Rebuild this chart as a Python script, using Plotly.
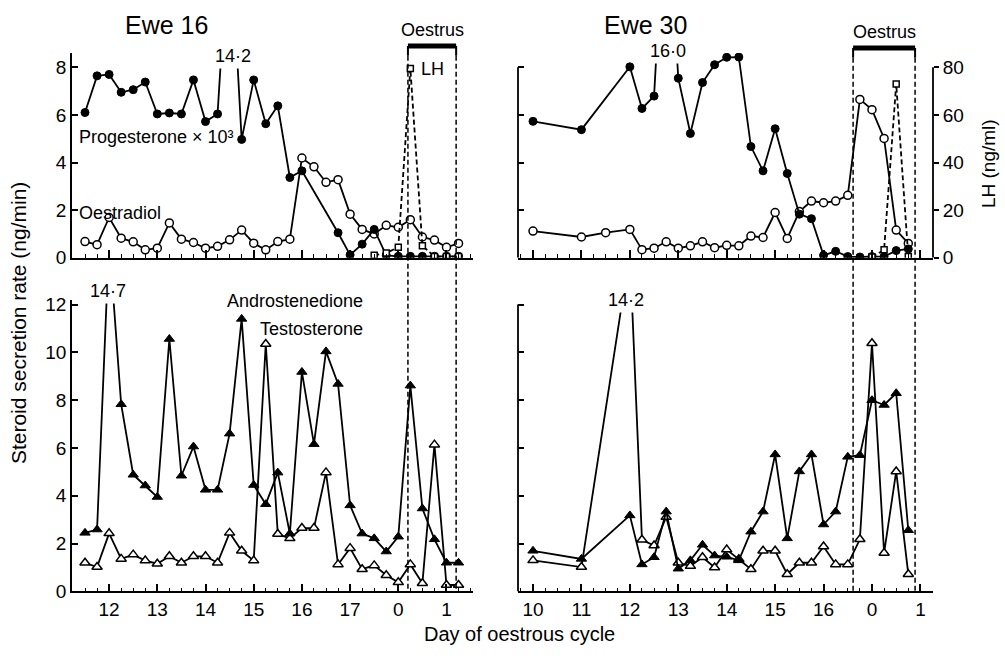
import plotly.graph_objects as go

# ---------------- data ----------------
# Day-axis positions. Ewe 16: 18 = day 0, 19 = day 1.  Ewe 30: 17 = day 0, 18 = day 1.
days16 = [11.5, 11.75, 12.0, 12.25, 12.5, 12.75, 13.0, 13.25, 13.5, 13.75, 14.0, 14.25,
          14.5, 14.75, 15.0, 15.25, 15.5, 15.75, 16.0, 16.25, 16.5, 16.75, 17.0, 17.25,
          17.5, 17.75, 18.0, 18.25, 18.5, 18.75, 19.0, 19.25]
prog16 = [6.1, 7.64, 7.70, 6.95, 7.06, 7.38, 6.04, 6.08, 6.04, 7.47, 5.72, 6.04,
          14.2, 4.97, 7.47, 5.63, 6.38, 3.37, 3.65, None, None, 1.05, 0.12, 0.57,
          1.19, 0.1, 0.06, 0.06, 0.06, 0.06, 0.06, 0.06]
oest16 = [0.68, 0.55, 1.69, 0.82, 0.67, 0.33, 0.40, 1.46, 0.78, 0.64, 0.40, 0.48,
          0.75, 1.16, 0.61, 0.33, 0.68, 0.78, 4.19, 3.82, 3.17, 3.28, 1.83, 1.19,
          1.0, 1.36, 1.28, 1.6, 0.87, 0.74, 0.44, 0.6]
lh16 = [None] * 24 + [1.0, 2.0, 4.4, 79.5, 5.0, 0.5, 0.5, 0.5]
andro16 = [2.45, 2.59, 14.7, 7.83, 4.88, 4.43, 3.95, 10.56, 4.84, 6.06, 4.25, 4.25,
           6.6, 11.4, 4.45, 3.65, 4.97, 2.42, 9.18, 6.16, 10.04, 8.68, 3.6, 2.42,
           2.22, 1.67, 2.29, 8.61, 3.47, 2.18, 1.2, 1.2]
testo16 = [1.2, 1.02, 2.43, 1.36, 1.54, 1.29, 1.16, 1.47, 1.2, 1.47, 1.47, 1.2,
           2.45, 1.7, 1.29, 10.35, 2.4, 2.22, 2.65, 2.65, 4.98, 1.13, 1.81, 0.93,
           1.09, 0.68, 0.38, 1.13, 0.34, 6.14, 0.27, 0.27]

days30 = [10.0, 11.0, 11.5, 12.0, 12.25, 12.5, 12.75, 13.0, 13.25, 13.5, 13.75, 14.0,
          14.25, 14.5, 14.75, 15.0, 15.25, 15.5, 15.75, 16.0, 16.25, 16.5, 16.75, 17.0,
          17.25, 17.5, 17.75]
prog30 = [5.73, 5.38, None, 8.02, 6.27, 6.79, 16.0, 7.54, 5.22, 7.36, 8.11, 8.42,
          8.43, 4.67, 3.65, 5.42, 3.54, 1.83, 1.64, 0.1, 0.27, 0.05, 0.03, 0.05,
          0.05, 0.3, 0.37]
oest30 = [1.12, 0.87, 1.05, 1.19, 0.34, 0.4, 0.67, 0.4, 0.5, 0.67, 0.42, 0.52,
          0.5, 0.91, 0.85, 1.9, 0.81, 1.94, 2.38, 2.31, 2.38, 2.62, 6.65, 6.22,
          5.01, 1.16, 0.6]
lh30 = [None] * 23 + [0.3, 3.3, 73.0, 0.5]
andro30 = [1.7, 1.36, None, 3.18, 1.13, 1.43, 3.34, 0.95, 1.3, 1.95, 1.5, 1.45,
           1.3, 2.5, 3.34, 5.73, 2.22, 5.02, 5.73, 2.8, 3.34, 5.63, 5.7, 8.0,
           7.8, 8.29, 2.56]
testo30 = [1.3, 1.02, None, 14.2, 2.16, 1.92, 3.11, 1.2, 1.06, 1.43, 1.0, 1.75,
           1.35, 0.93, 1.7, 1.7, 0.72, 1.2, 1.2, 1.88, 1.13, 1.13, 2.18, 10.38,
           1.61, 5.02, 0.72]

oestrus16 = [18.2, 19.2]
oestrus30 = [16.61, 17.89]

ticks16 = [12, 13, 14, 15, 16, 17, 18, 19]
labels16 = ["12", "13", "14", "15", "16", "17", "0", "1"]
ticks30 = [10, 11, 12, 13, 14, 15, 16, 17, 18]
labels30 = ["10", "11", "12", "13", "14", "15", "16", "0", "1"]

# ---------------- styling ----------------
W, H = 1005, 660
FONT = "Liberation Sans, Arial, Helvetica, sans-serif"
BLACK = "black"
LW = 1.8


def px(x):
    return x / W


def py(y):
    return 1 - y / H


def filled(symbol, size):
    return dict(symbol=symbol, size=size, color=BLACK, line=dict(color=BLACK, width=1))


def hollow(symbol, size):
    return dict(symbol=symbol, size=size, color="white", line=dict(color=BLACK, width=1.5))


fig = go.Figure()


def add(x, y, marker, xa, ya, dash="solid"):
    fig.add_trace(go.Scatter(x=x, y=y, mode="lines+markers", connectgaps=True,
                             line=dict(color=BLACK, width=LW, dash=dash),
                             marker=marker, xaxis=xa, yaxis=ya, hoverinfo="skip"))


# Ewe 16 top
add(days16, lh16, hollow("square", 6), "x", "y6", dash="5px,3px")
add(days16, oest16, hollow("circle", 8), "x", "y")
add(days16, prog16, filled("circle", 8), "x", "y")
# Ewe 16 bottom
add(days16, testo16, hollow("triangle-up", 9), "x2", "y2")
add(days16, andro16, filled("triangle-up", 9), "x2", "y2")
# Ewe 30 top
add(days30, lh30, hollow("square", 6), "x3", "y4", dash="5px,3px")
add(days30, oest30, hollow("circle", 8), "x3", "y3")
add(days30, prog30, filled("circle", 8), "x3", "y3")
# Ewe 30 bottom
add(days30, testo30, hollow("triangle-up", 9), "x4", "y5")
add(days30, andro30, filled("triangle-up", 9), "x4", "y5")

tickfont = dict(family=FONT, size=19, color=BLACK)
LEFT = [px(72), px(473)]
RIGHT = [px(518), px(933)]
TOP = [py(259), py(49.2)]
BOT = [py(601), py(302.1)]
RANGE16 = [11.23, 19.55]
RANGE30 = [9.69, 18.26]


def xax(domain, rng, tv, tt, anchor, labels):
    return dict(domain=domain, range=rng, anchor=anchor, tickmode="array", tickvals=tv,
                ticktext=tt, showticklabels=labels, showline=True, linecolor=BLACK,
                linewidth=LW, ticks="inside", ticklen=8, tickwidth=1.5, tickcolor=BLACK,
                showgrid=False, zeroline=False, tickfont=tickfont,
                minor=dict(ticks="inside", ticklen=4, tickwidth=1.3, tickcolor=BLACK,
                           dtick=0.25, tick0=0, showgrid=False))


def yax(domain, rng, tv, anchor, labels, line):
    return dict(domain=domain, range=rng, anchor=anchor, tickmode="array", tickvals=tv,
                showticklabels=labels, showline=line, linecolor=BLACK, linewidth=LW,
                ticks="inside", ticklen=6, tickwidth=1.5, tickcolor=BLACK,
                showgrid=False, zeroline=False, tickfont=tickfont)


fig.update_layout(
    width=W, height=H, margin=dict(l=0, r=0, t=0, b=0),
    paper_bgcolor="white", plot_bgcolor="white", showlegend=False,
    font=dict(family=FONT, color=BLACK),
    xaxis=xax(LEFT, RANGE16, ticks16, labels16, "y", False),
    xaxis2=xax(LEFT, RANGE16, ticks16, labels16, "y2", True),
    xaxis3=xax(RIGHT, RANGE30, ticks30, labels30, "y3", False),
    xaxis4=xax(RIGHT, RANGE30, ticks30, labels30, "y5", True),
    yaxis=yax(TOP, [0, 8.6], [0, 2, 4, 6, 8], "x", True, True),
    yaxis2=yax(BOT, [0, 12.2], [0, 2, 4, 6, 8, 10, 12], "x2", True, True),
    yaxis3=yax(TOP, [0, 8.6], [0, 2, 4, 6, 8], "x3", False, False),
    yaxis4=dict(overlaying="y3", side="right", anchor="x3", range=[0, 86],
                tickmode="array", tickvals=[0, 20, 40, 60, 80], ticks="outside",
                ticklen=5, tickwidth=1.5, tickcolor=BLACK, showline=False,
                showgrid=False, zeroline=False, tickfont=tickfont),
    yaxis5=yax(BOT, [0, 12.2], [0, 2, 4, 6, 8, 10, 12], "x4", False, False),
    yaxis6=dict(overlaying="y", anchor="x", range=[0, 86], visible=False),
)

shapes = []
# axis lines drawn only over the labelled span (right-hand panels)
shapes.append(dict(type="line", xref="paper", yref="y3", x0=RIGHT[0], x1=RIGHT[0], y0=0, y1=8,
                   line=dict(color=BLACK, width=LW)))
shapes.append(dict(type="line", xref="paper", yref="y4", x0=RIGHT[1], x1=RIGHT[1], y0=0, y1=80,
                   line=dict(color=BLACK, width=LW)))
shapes.append(dict(type="line", xref="paper", yref="y5", x0=RIGHT[0], x1=RIGHT[0], y0=0, y1=12,
                   line=dict(color=BLACK, width=LW)))
# oestrus bars and dashed boundaries
for xr, (a, b), ybar in (("x", oestrus16, 42), ("x3", oestrus30, 44)):
    shapes.append(dict(type="line", xref=xr, yref="paper", x0=a, x1=b, y0=py(ybar), y1=py(ybar),
                       line=dict(color=BLACK, width=5)))
    for v in (a, b):
        shapes.append(dict(type="line", xref=xr, yref="paper", x0=v, x1=v,
                           y0=py(ybar), y1=py(ybar + 10), line=dict(color=BLACK, width=2)))
        shapes.append(dict(type="line", xref=xr, yref="paper", x0=v, x1=v,
                           y0=py(ybar + 10), y1=py(601),
                           line=dict(color=BLACK, width=1.5, dash="5px,3px")))
fig.update_layout(shapes=shapes)

ann = []


def text(x, y, s, size=18, angle=0, bg=None, xanchor="center"):
    d = dict(x=px(x), y=py(y), xref="paper", yref="paper", text=s, showarrow=False,
             font=dict(family=FONT, size=size, color=BLACK), textangle=angle,
             xanchor=xanchor, yanchor="middle")
    if bg:
        d.update(bgcolor=bg, borderpad=2)
    ann.append(d)


text(166, 20, "Ewe 16", size=25)
text(645, 20, "Ewe 30", size=25)
text(432, 26, "Oestrus", size=18)
text(884, 28, "Oestrus", size=18)
text(419, 66, "LH", size=18, xanchor="left")
text(233, 52, "14·2", bg="white")
text(668, 47, "16·0", bg="white")
text(108, 293, "14·7", bg="white")
text(626, 302, "14·2", bg="white")
text(156, 135, "Progesterone × 10³")
text(120, 213, "Oestradiol")
text(295, 303, "Androstenedione")
text(311, 332, "Testosterone")
text(18, 326, "Steroid secretion rate (ng/min)", size=21, angle=-90)
text(988, 163, "LH (ng/ml)", size=19, angle=-90)
text(519, 645, "Day of oestrous cycle", size=20)
fig.update_layout(annotations=ann)

fig.write_html("out.html", config={"displayModeBar": False},
               post_script="document.body.style.margin='0';")
